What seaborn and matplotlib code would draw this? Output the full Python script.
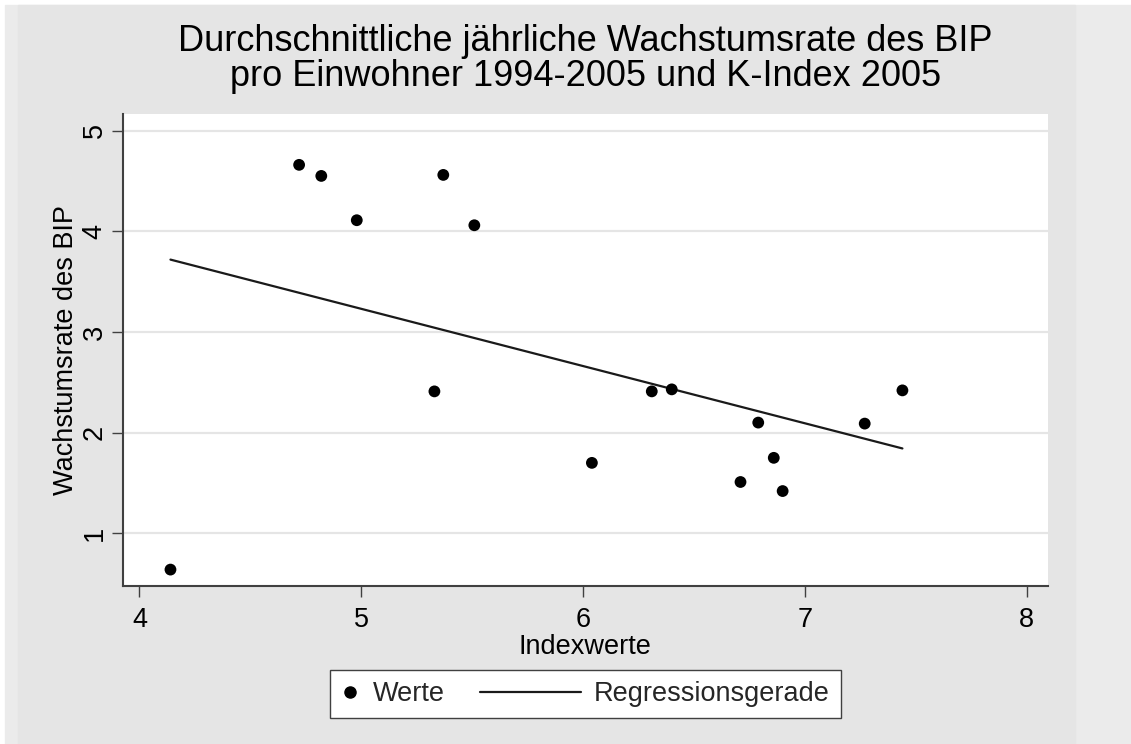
import pandas as pd
import matplotlib
matplotlib.use("Agg")
import matplotlib.pyplot as plt
import seaborn as sns
from matplotlib.lines import Line2D
from matplotlib.patches import Rectangle
from matplotlib.legend_handler import HandlerLine2D

# Daten
indexwerte = [4.14, 4.72, 4.82, 4.98, 5.33, 5.37, 5.51, 6.04,
              6.31, 6.40, 6.71, 6.79, 6.86, 6.90, 7.27, 7.44]
wachstum = [0.64, 4.66, 4.55, 4.11, 2.41, 4.56, 4.06, 1.70,
            2.41, 2.43, 1.51, 2.10, 1.75, 1.42, 2.09, 2.42]
x_ticks = [4, 5, 6, 7, 8]
y_ticks = [1, 2, 3, 4, 5]

df = pd.DataFrame({"Indexwerte": indexwerte, "Wachstum": wachstum})

sns.set_theme(style="white")
plt.rcParams["font.family"] = ["Liberation Sans", "DejaVu Sans"]

W, H = 1131, 744
fig = plt.figure(figsize=(W / 100, H / 100), dpi=100, facecolor="white")

# Hintergrund im Stata-Stil
fig.patches.append(Rectangle((5 / W, 0), 1, 739 / H, transform=fig.transFigure,
                             color="#ebebeb", zorder=-10))
fig.patches.append(Rectangle((18 / W, 0), (1075 - 18) / W, 739 / H, transform=fig.transFigure,
                             color="#e5e5e5", zorder=-9))

ax = fig.add_axes([123 / W, 1 - 585.7 / H, (1047.7 - 123) / W, (585.7 - 114) / H])
ax.set_facecolor("white")

sns.scatterplot(data=df, x="Indexwerte", y="Wachstum", color="black", s=72,
                edgecolor="none", ax=ax, zorder=3)
sns.regplot(data=df, x="Indexwerte", y="Wachstum", scatter=False, ci=None,
            truncate=True, color="#1a1a1a", line_kws={"lw": 1.6}, ax=ax)

ax.set_xlim(3.926, 8.095)
ax.set_ylim(0.48, 5.165)
ax.set_xticks(x_ticks)
ax.set_xticklabels([str(t) for t in x_ticks])
ax.set_yticks(y_ticks)
ax.set_yticklabels([str(t) for t in y_ticks], rotation=90, va="center")

ax.yaxis.grid(True, color="#e5e5e5", lw=1.6)
ax.xaxis.grid(False)
ax.set_axisbelow(True)

for s in ["top", "right"]:
    ax.spines[s].set_visible(False)
for s in ["left", "bottom"]:
    ax.spines[s].set_color("#404040")
    ax.spines[s].set_linewidth(1.5)

ax.tick_params(axis="x", bottom=True, direction="out", length=8, width=1,
               color="#404040", labelsize=19.5, pad=7.5, labelcolor="black")
ax.tick_params(axis="y", left=True, direction="out", length=8, width=1,
               color="#404040", labelsize=19.5, pad=3, labelcolor="black")

ax.set_xlabel("Indexwerte", fontsize=19.5, labelpad=0.5, color="black")
ax.set_ylabel("Wachstumsrate des BIP", fontsize=19.5, labelpad=2, color="black")
ax.set_title("Durchschnittliche jährliche Wachstumsrate des BIP\n"
             "pro Einwohner 1994-2005 und K-Index 2005",
             fontsize=26, linespacing=1.0, pad=20, color="black")


# Legende: Linie ragt nach links in den Spaltenabstand
class LangeLinie(HandlerLine2D):
    def create_artists(self, legend, orig_handle, xdescent, ydescent, width, height, fontsize, trans):
        extra = 4.3 * width
        return super().create_artists(legend, orig_handle, xdescent + extra, ydescent,
                                      width + extra, height, fontsize, trans)


h_punkt = Line2D([], [], ls="none", marker="o", color="black", markersize=8)
h_linie = Line2D([], [], color="#1a1a1a", lw=1.6)
leg = ax.legend([h_punkt, h_linie], ["Werte", "Regressionsgerade"],
                handler_map={h_linie: LangeLinie()}, ncol=2, loc="center",
                bbox_to_anchor=(0.5, -0.2296), fontsize=19.5, frameon=True,
                fancybox=False, edgecolor="#404040", framealpha=1,
                handlelength=0.7, handletextpad=0.5, columnspacing=4.3,
                borderpad=0.4)
leg.get_frame().set_linewidth(1)

fig.savefig("out.png", dpi=100, facecolor=fig.get_facecolor())
